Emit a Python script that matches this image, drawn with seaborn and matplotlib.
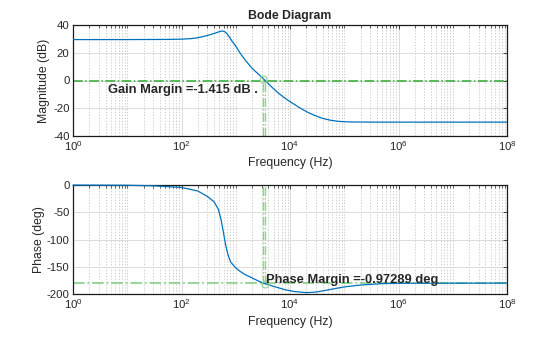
import numpy as np
import pandas as pd
import matplotlib
matplotlib.use("Agg")
import matplotlib.pyplot as plt
import seaborn as sns
from matplotlib.ticker import LogLocator, FixedLocator, NullFormatter

# ---- data ----
mag_freq = [1, 10, 50, 100, 150, 200, 270, 350, 420, 500, 560, 620, 680, 750, 850,
            1000, 1200, 1500, 2000, 2500, 3215, 3460, 4500, 6000, 8000, 10000,
            15000, 20000, 27000, 40000, 55000, 80000, 1.2e5, 3e5, 1e6, 1e8]
mag_db = [29.5, 29.5, 29.6, 29.8, 30.2, 30.8, 32.0, 33.2, 34.2, 35.2, 35.7, 35.3,
          34.0, 31.8, 28.5, 24.8, 19.8, 14.6, 8.8, 5.3, 1.415, 0.0, -4.3, -8.8,
          -12.6, -15.2, -19.6, -22.4, -24.8, -27.3, -28.6, -29.5, -29.85, -30.0,
          -30.0, -30.0]
ph_freq = [1, 10, 30, 100, 200, 300, 400, 480, 540, 600, 650, 720, 800, 1000,
           1200, 1500, 2000, 2600, 3215, 3460, 5000, 8000, 12000, 20000, 30000,
           50000, 1e5, 2e5, 5e5, 1e6, 1e8]
ph_deg = [-0.1, -0.5, -1.5, -4.5, -11, -21, -31, -45, -65, -90, -110, -128, -141,
          -152, -158.5, -164.5, -170.5, -176, -180, -180.97, -186, -192, -195.5,
          -197.5, -196.5, -192.5, -187, -183.5, -181, -180.3, -180]
gm_freq = 3215
pm_freq = 3460
gm_text = "Gain Margin =-1.415 dB ."
pm_text = "Phase Margin =-0.97289 deg"
mag_yticks = [40, 20, 0, -20, -40]
ph_yticks = [0, -50, -100, -150, -200]
x_major = [1, 1e2, 1e4, 1e6, 1e8]

sns.set_style("white")
plt.rcParams["font.family"] = ["Liberation Sans", "DejaVu Sans"]
plt.rcParams["mathtext.fontset"] = "custom"
plt.rcParams["mathtext.rm"] = "Liberation Sans"
plt.rcParams["mathtext.it"] = "Liberation Sans:italic"
plt.rcParams["mathtext.bf"] = "Liberation Sans:bold"
plt.rcParams["axes.unicode_minus"] = False

fig = plt.figure(figsize=(5.6, 3.37), dpi=100)
ax1 = fig.add_axes([73/560, 1-136/337, 434/560, 111/337])
ax2 = fig.add_axes([73/560, 1-294/337, 434/560, 109/337])

blue = "#0072BD"
green_dark = "#2faa2f"
green_light = "#8fd28f"
txtc = "#262626"

mag_df = pd.DataFrame({"f": mag_freq, "m": mag_db})
ph_df = pd.DataFrame({"f": ph_freq, "p": ph_deg})

for ax in (ax1, ax2):
    ax.set_xscale("log")
    ax.set_xlim(1, 1e8)
    ax.xaxis.set_major_locator(FixedLocator(x_major))
    ax.xaxis.set_minor_locator(LogLocator(base=10, subs=np.arange(1, 10), numticks=100))
    ax.xaxis.set_minor_formatter(NullFormatter())
    ax.grid(True, which="major", color="#dcdcdc", lw=0.7, ls="-", zorder=0)
    ax.grid(True, which="minor", axis="x", color="#c4c4c4", lw=0.6, ls=(0, (1.5, 2)), zorder=0)
    ax.tick_params(which="both", direction="in", top=True, right=True,
                   colors=txtc, labelsize=8.2, pad=2.5)
    ax.tick_params(which="major", length=3, width=0.6)
    ax.tick_params(which="minor", length=1.8, width=0.5)
    for s in ax.spines.values():
        s.set_color("#1a1a1a")
        s.set_linewidth(0.9)
    ax.set_axisbelow(True)

# magnitude
ax1.axhline(0, color=green_dark, lw=1.1, ls="-.", zorder=2)
ax1.vlines([gm_freq, pm_freq], -40, 1.415, colors=green_light, lw=1.0, linestyles="-.", zorder=2)
sns.lineplot(data=mag_df, x="f", y="m", ax=ax1, color=blue, lw=0.9, zorder=3)
ax1.plot([gm_freq], [1.415], marker="o", ms=5, mfc="none", mec=green_light, mew=0.8, zorder=4)
ax1.set_ylim(-40, 40)
ax1.set_yticks(mag_yticks)
ax1.text(4.4, -8.8, gm_text, fontsize=9.3, fontweight="bold", color=txtc, va="baseline", ha="left", zorder=5)
ax1.set_title("Bode Diagram", fontsize=8.8, fontweight="bold", color=txtc, pad=4)
ax1.set_ylabel("Magnitude (dB)", fontsize=8.8, color=txtc)
ax1.set_xlabel("Frequency (Hz)", fontsize=8.8, color=txtc)
ax1.yaxis.set_label_coords(-0.053, 0.5)
ax1.xaxis.set_label_coords(0.5, -0.19)

# phase
ax2.axhline(-180, color=green_light, lw=1.3, ls="-.", zorder=2)
ax2.vlines([gm_freq, pm_freq], -180.97, 0, colors=green_light, lw=1.0, linestyles="-.", zorder=2)
sns.lineplot(data=ph_df, x="f", y="p", ax=ax2, color=blue, lw=0.9, zorder=3)
for ln in ax2.get_lines():
    ln.set_clip_on(False)
ax2.plot([pm_freq], [-180.97], marker="o", ms=5, mfc="none", mec=green_light, mew=0.8, zorder=4)
ax2.set_ylim(-200, 0)
ax2.set_yticks(ph_yticks)
ax2.text(3610, -180.5, pm_text, fontsize=9.3, fontweight="bold", color=txtc, va="baseline", ha="left", zorder=5)
ax2.set_ylabel("Phase (deg)", fontsize=8.8, color=txtc)
ax2.set_xlabel("Frequency (Hz)", fontsize=8.8, color=txtc)
ax2.yaxis.set_label_coords(-0.0645, 0.5)
ax2.xaxis.set_label_coords(0.5, -0.20)

fig.savefig("out.png", dpi=100, facecolor="white")
